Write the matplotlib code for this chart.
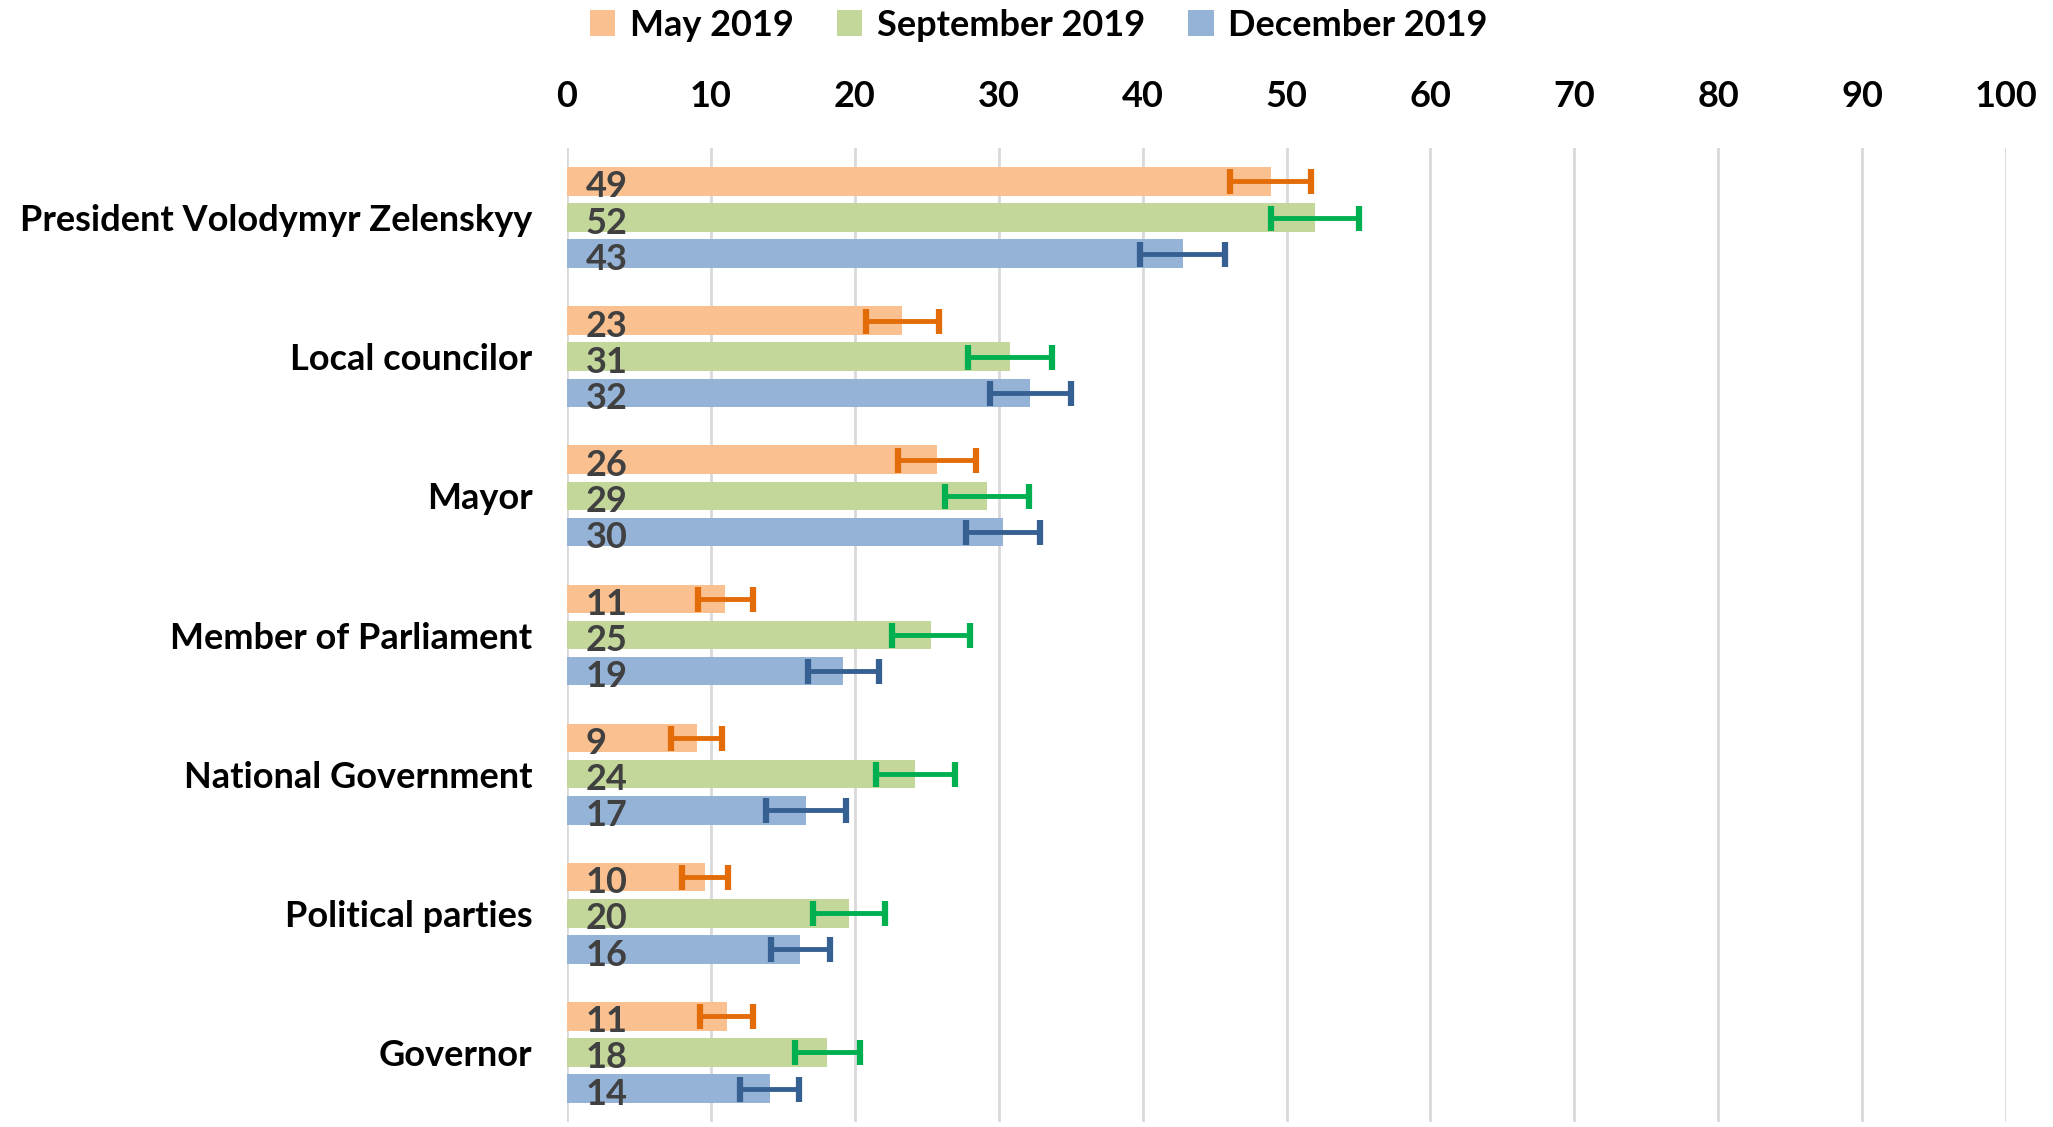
import matplotlib
matplotlib.use("Agg")
import matplotlib.pyplot as plt
from matplotlib.patches import Patch
import numpy as np

categories = ["President Volodymyr Zelenskyy", "Local councilor", "Mayor",
              "Member of Parliament", "National Government", "Political parties", "Governor"]
series_names = ["May 2019", "September 2019", "December 2019"]
may_vals = [48.9, 23.3, 25.7, 11.0, 9.0, 9.6, 11.1]
sep_vals = [52.0, 30.8, 29.2, 25.3, 24.2, 19.6, 18.1]
dec_vals = [42.8, 32.2, 30.3, 19.2, 16.6, 16.2, 14.1]
may_err = [2.8, 2.55, 2.7, 1.9, 1.8, 1.6, 1.85]
sep_err = [3.05, 2.9, 2.9, 2.7, 2.75, 2.5, 2.25]
dec_err = [2.95, 2.8, 2.6, 2.45, 2.8, 2.05, 2.05]
x_ticks = [0, 10, 20, 30, 40, 50, 60, 70, 80, 90, 100]

bar_colors = ["#FAC090", "#C4D79B", "#95B3D7"]
err_colors = ["#E36C09", "#00B050", "#376092"]

FONT = "Lato"
FS = 26

fig = plt.figure(figsize=(20.53, 11.27), dpi=100)
ax = fig.add_axes([567/2053, 1-1122/1127, (2006-567)/2053, (1122-148)/1127])

y = np.arange(len(categories))
offsets = [-0.26, 0.0, 0.26]
bh = 0.205
vals = [may_vals, sep_vals, dec_vals]
errs = [may_err, sep_err, dec_err]

for s in range(3):
    yy = y + offsets[s]
    ax.barh(yy, vals[s], height=bh, color=bar_colors[s], zorder=2)
    ax.errorbar(vals[s], yy, xerr=errs[s], fmt="none", ecolor=err_colors[s],
                elinewidth=3.5, capsize=9, capthick=4.5, zorder=3)
    for yi, v in zip(yy, vals[s]):
        ax.text(1.3, yi + 0.04, f"{v:.0f}", ha="left", va="center", color="#404040",
                fontsize=FS, fontweight="bold", family=FONT, zorder=4)

ax.set_xlim(0, 100)
ax.set_ylim(len(categories) - 0.5, -0.5)
ax.set_xticks(x_ticks)
ax.set_xticklabels([str(t) for t in x_ticks], fontsize=FS, fontweight="bold", family=FONT)
ax.xaxis.tick_top()
ax.tick_params(axis="x", length=0, pad=25)
ax.set_yticks(y)
ax.set_yticklabels(categories, fontsize=FS, fontweight="bold", family=FONT)
ax.tick_params(axis="y", length=0, pad=25)
ax.grid(axis="x", color="#D9D9D9", linewidth=2, zorder=0)
ax.set_axisbelow(True)
for sp in ax.spines.values():
    sp.set_visible(False)

handles = [Patch(facecolor=c, edgecolor="none") for c in bar_colors]
leg = fig.legend(handles, series_names, loc="center", bbox_to_anchor=(0.506, 1-25/1127),
                 ncol=3, frameon=False, handlelength=0.7, handleheight=0.7,
                 handletextpad=0.4, columnspacing=1.2,
                 prop={"family": FONT, "weight": "bold", "size": FS})

fig.savefig("out.png", dpi=100)
